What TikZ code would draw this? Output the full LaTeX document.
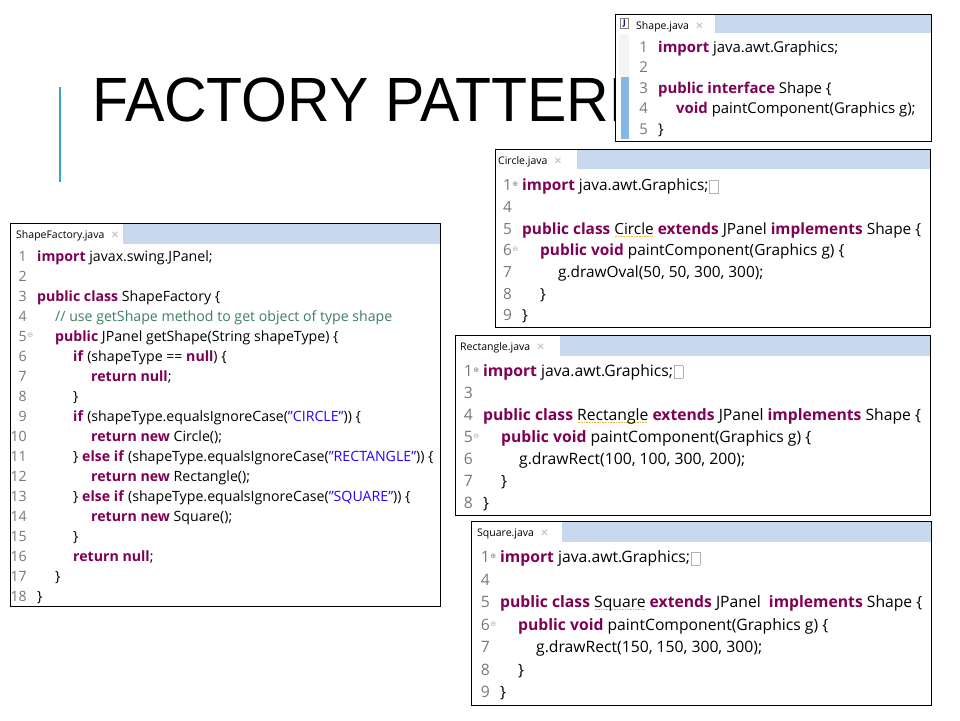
\documentclass[tikz,border=0pt]{standalone}
\usepackage{fontspec}
\setmainfont{Open Sans}
\newfontfamily\titlefont{Liberation Sans}
\newfontfamily\symfont{DejaVu Sans}
\usetikzlibrary{positioning}

\definecolor{kwred}{HTML}{7F0055}
\definecolor{strblue}{HTML}{2A00FF}
\definecolor{cmtgreen}{HTML}{3F7F5F}
\definecolor{numgray}{HTML}{787878}
\definecolor{tabblue}{HTML}{C8D8EF}
\definecolor{markblue}{HTML}{86B6E6}
\definecolor{titleblue}{HTML}{38A4CA}
\definecolor{warnyel}{HTML}{E2B648}

\newlength\warnw
\newcommand\jkw[1]{\textcolor{kwred}{\textbf{#1}}}
\newcommand\jstr[1]{\textcolor{strblue}{#1}}
\newcommand\jcmt[1]{\textcolor{cmtgreen}{#1}}
\newcommand\warn[1]{\settowidth\warnw{#1}\rlap{\textcolor{warnyel}{\leaders\hbox to 1.6pt{\hss\rule[-2.5pt]{0.9pt}{0.8pt}\hss}\hskip\warnw}}#1}
\newcommand\fold{\kern1pt\raisebox{-2pt}{\setlength\fboxsep{0pt}\setlength\fboxrule{0.6pt}\fcolorbox{gray!60}{white}{\rule{0pt}{12pt}\hspace{8pt}}}}
\newcommand\plusm{\rlap{\kern0.5pt\raisebox{4pt}{\fontsize{7}{7}\selectfont\symfont\textcolor{gray}{⊕}}}}
\newcommand\minusm{\rlap{\kern0.5pt\raisebox{4pt}{\fontsize{7}{7}\selectfont\symfont\textcolor{gray!70}{⊖}}}}
\newcommand\ind{\hspace*{18pt}}

\begin{document}
\begin{tikzpicture}[x=1pt, y=-1pt,
    panel/.style = {draw=black, line width=1pt, fill=white},
    tabname/.style = {anchor=base west, inner sep=0pt, font=\fontsize{10.5}{12}\selectfont},
    closex/.style = {inner sep=0pt, font=\fontsize{10}{10}\selectfont\symfont, text=gray!55},
    code/.style = {anchor=base west, inner sep=0pt, text height=11pt, text depth=3pt},
    num/.style = {inner sep=0pt, xshift=-10pt, text height=11pt, text depth=3pt, text=numgray}]
  \useasboundingbox (0,0) rectangle (960,720);

  % title
  \draw[titleblue, line width=2pt] (60,87) -- (60,182);
  \node[anchor=base west, inner sep=0pt, font=\fontsize{59}{59}\selectfont\titlefont] (title) at (92,121) {\scalebox{1}[1.06]{FACTORY PATTERN}};

  % Shape.java
  \draw[panel] (615,14) rectangle (931,141);
  \fill[tabblue] (615.5,14.5) rectangle (930.5,33);
  \fill[white] (615.5,14.5) rectangle (715,33);
  \fill[gray!8] (619,34) rectangle (629,77);
  \fill[markblue] (621,77) rectangle (629,139);
  \node[draw=gray, fill=white, inner sep=0pt, minimum width=8pt, minimum height=10pt, font=\fontsize{8}{8}\selectfont\bfseries, text=blue!50!black] (jicon) at (624.5,23.5) {J};
  \node[tabname] (sname) at (636,29) {Shape.java};
  \node[closex, right=6pt of sname] (sclose) {✕};
  \begin{scope}[every node/.append style={font=\fontsize{14.9}{17}\selectfont}]
    \node[code, label={[num]left:1}] (s1) at (658,52) {\jkw{import} java.awt.Graphics;};
    \node[code, label={[num]left:2}] (s2) at (658,72.5) {};
    \node[code, label={[num]left:3}] (s3) at (658,93) {\jkw{public interface} Shape \{};
    \node[code, label={[num]left:4}] (s4) at (658,113.5) {\ind\jkw{void} paintComponent(Graphics g);};
    \node[code, label={[num]left:5}] (s5) at (658,134) {\}};
  \end{scope}

  % Circle.java
  \draw[panel] (495,149) rectangle (930,327.5);
  \fill[tabblue] (495.5,149.5) rectangle (929.5,169);
  \fill[white] (495.5,149.5) rectangle (577,169);
  \node[tabname] (cname) at (498,164) {Circle.java};
  \node[closex, right=6pt of cname] (cclose) {✕};
  \begin{scope}[every node/.append style={font=\fontsize{15.4}{17}\selectfont}]
    \node[code, label={[num]left:1\plusm}] (c1) at (522,190.5) {\jkw{import} java.awt.Graphics;\fold};
    \node[code, label={[num]left:4}] (c4) at (522,212) {};
    \node[code, label={[num]left:5}] (c5) at (522,234) {\jkw{public class} \warn{Circle} \jkw{extends} JPanel \jkw{implements} Shape \{};
    \node[code, label={[num]left:6\minusm}] (c6) at (522,255.5) {\ind\jkw{public void} paintComponent(Graphics g) \{};
    \node[code, label={[num]left:7}] (c7) at (522,277) {\ind\ind g.drawOval(50, 50, 300, 300);};
    \node[code, label={[num]left:8}] (c8) at (522,299) {\ind\}};
    \node[code, label={[num]left:9}] (c9) at (522,320.5) {\}};
  \end{scope}

  % ShapeFactory.java
  \draw[panel] (10,223) rectangle (440,606);
  \fill[tabblue] (10.5,223.5) rectangle (439.5,244);
  \fill[white] (10.5,223.5) rectangle (123,244);
  \node[tabname] (fname) at (16,238) {ShapeFactory.java};
  \node[closex, right=6pt of fname] (fclose) {✕};
  \begin{scope}[every node/.append style={font=\fontsize{14.15}{16}\selectfont}]
    \node[code, label={[num]left:1}] (f1) at (37,261.5) {\jkw{import} javax.swing.JPanel;};
    \node[code, label={[num]left:2}] (f2) at (37,281.5) {};
    \node[code, label={[num]left:3}] (f3) at (37,301.5) {\jkw{public class} ShapeFactory \{};
    \node[code, label={[num]left:4}] (f4) at (37,321.5) {\ind\jcmt{// use getShape method to get object of type shape}};
    \node[code, label={[num]left:5\minusm}] (f5) at (37,341.5) {\ind\jkw{public} JPanel getShape(String shapeType) \{};
    \node[code, label={[num]left:6}] (f6) at (37,361) {\ind\ind\jkw{if} (shapeType == \jkw{null}) \{};
    \node[code, label={[num]left:7}] (f7) at (37,381) {\ind\ind\ind\jkw{return null};};
    \node[code, label={[num]left:8}] (f8) at (37,401) {\ind\ind\}};
    \node[code, label={[num]left:9}] (f9) at (37,421) {\ind\ind\jkw{if} (shapeType.equalsIgnoreCase(\jstr{"CIRCLE"})) \{};
    \node[code, label={[num]left:10}] (f10) at (37,441) {\ind\ind\ind\jkw{return new} Circle();};
    \node[code, label={[num]left:11}] (f11) at (37,461) {\ind\ind\} \jkw{else if} (shapeType.equalsIgnoreCase(\jstr{"RECTANGLE"})) \{};
    \node[code, label={[num]left:12}] (f12) at (37,481) {\ind\ind\ind\jkw{return new} Rectangle();};
    \node[code, label={[num]left:13}] (f13) at (37,501) {\ind\ind\} \jkw{else if} (shapeType.equalsIgnoreCase(\jstr{"SQUARE"})) \{};
    \node[code, label={[num]left:14}] (f14) at (37,521) {\ind\ind\ind\jkw{return new} Square();};
    \node[code, label={[num]left:15}] (f15) at (37,541) {\ind\ind\}};
    \node[code, label={[num]left:16}] (f16) at (37,561) {\ind\ind\jkw{return null};};
    \node[code, label={[num]left:17}] (f17) at (37,581) {\ind\}};
    \node[code, label={[num]left:18}] (f18) at (37,601) {\}};
  \end{scope}

  % Rectangle.java
  \draw[panel] (455,335) rectangle (930.5,515.5);
  \fill[tabblue] (455.5,335.5) rectangle (930,356);
  \fill[white] (455.5,335.5) rectangle (560,356);
  \node[tabname] (rname) at (460,350) {Rectangle.java};
  \node[closex, right=6pt of rname] (rclose) {✕};
  \begin{scope}[every node/.append style={font=\fontsize{15.7}{17}\selectfont}]
    \node[code, label={[num]left:1\plusm}] (r1) at (483,376) {\jkw{import} java.awt.Graphics;\fold};
    \node[code, label={[num]left:3}] (r3) at (483,398) {};
    \node[code, label={[num]left:4}] (r4) at (483,420) {\jkw{public class} \warn{Rectangle} \jkw{extends} JPanel \jkw{implements} Shape \{};
    \node[code, label={[num]left:5\minusm}] (r5) at (483,442.5) {\ind\jkw{public void} paintComponent(Graphics g) \{};
    \node[code, label={[num]left:6}] (r6) at (483,464.5) {\ind\ind g.drawRect(100, 100, 300, 200);};
    \node[code, label={[num]left:7}] (r7) at (483,486.5) {\ind\}};
    \node[code, label={[num]left:8}] (r8) at (483,508.5) {\}};
  \end{scope}

  % Square.java
  \draw[panel] (471,521) rectangle (931,705.5);
  \fill[tabblue] (471.5,521.5) rectangle (930.5,542);
  \fill[white] (471.5,521.5) rectangle (562,542);
  \node[tabname] (qname) at (477,536) {Square.java};
  \node[closex, right=6pt of qname] (qclose) {✕};
  \begin{scope}[every node/.append style={font=\fontsize{15.7}{17}\selectfont}]
    \node[code, label={[num]left:1\plusm}] (q1) at (500,562.5) {\jkw{import} java.awt.Graphics;\fold};
    \node[code, label={[num]left:4}] (q4) at (500,585) {};
    \node[code, label={[num]left:5}] (q5) at (500,607.5) {\jkw{public class} \warn{Square} \jkw{extends} JPanel\ \ \jkw{implements} Shape \{};
    \node[code, label={[num]left:6\minusm}] (q6) at (500,630) {\ind\jkw{public void} paintComponent(Graphics g) \{};
    \node[code, label={[num]left:7}] (q7) at (500,652.5) {\ind\ind g.drawRect(150, 150, 300, 300);};
    \node[code, label={[num]left:8}] (q8) at (500,675) {\ind\}};
    \node[code, label={[num]left:9}] (q9) at (500,697.5) {\}};
  \end{scope}
\end{tikzpicture}
\end{document}
